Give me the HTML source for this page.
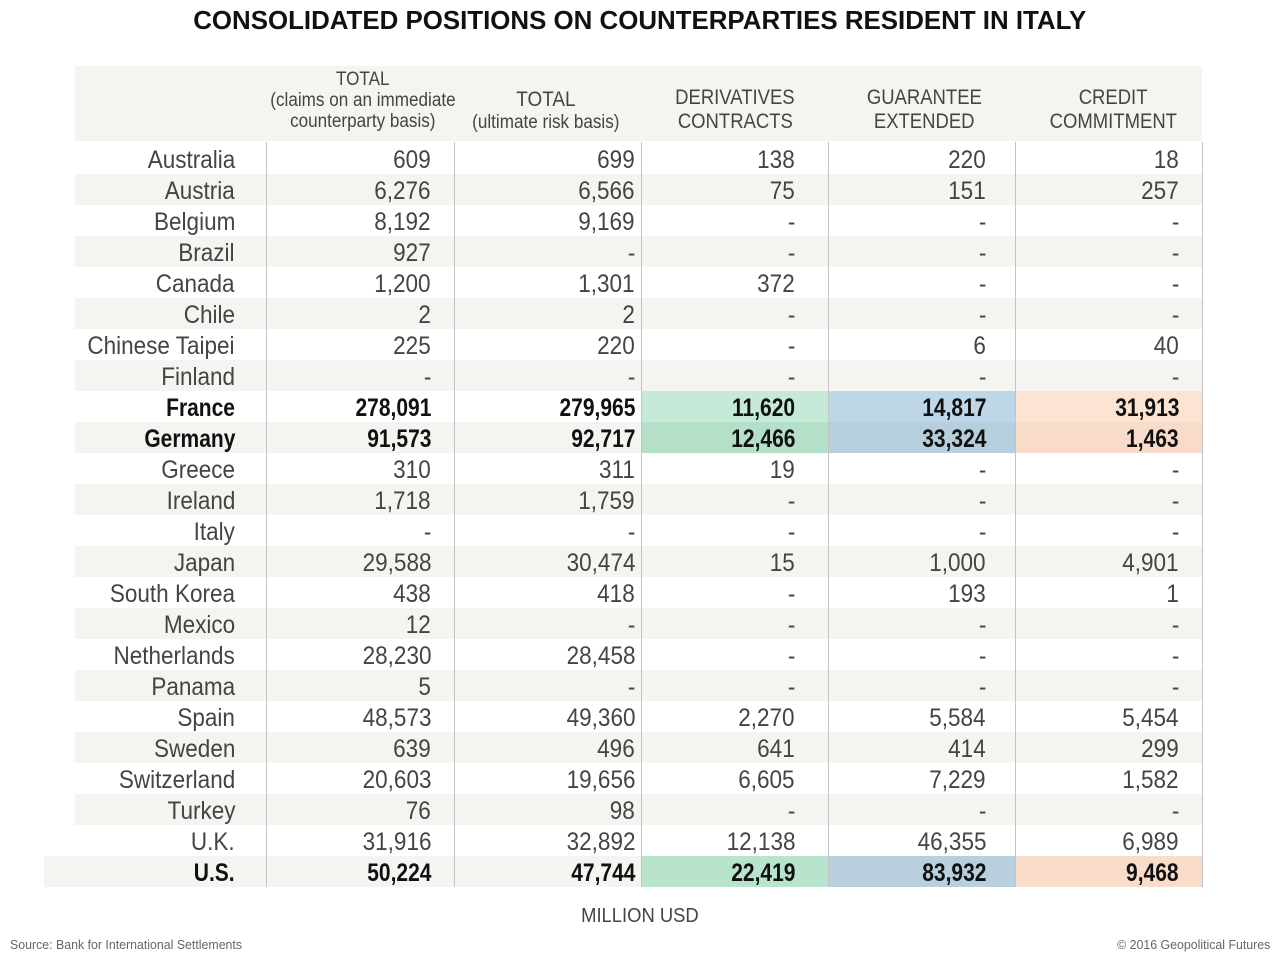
<!DOCTYPE html>
<html><head><meta charset="utf-8">
<style>
body{margin:0;width:1280px;height:960px;background:#fff;position:relative;overflow:hidden;font-family:"Liberation Sans",sans-serif;}
.t{position:absolute;white-space:nowrap;}
.title{left:0;width:1280px;top:5px;text-align:center;font-weight:bold;font-size:26px;color:#111;}
.title span{display:inline-block;transform:scaleX(0.995);}
.hdr{position:absolute;left:75px;top:66px;width:1127px;height:75px;background:#f5f4f0;}
.hc{position:absolute;top:63px;height:75px;width:190px;display:flex;flex-direction:column;justify-content:center;align-items:center;color:#444;font-size:19px;line-height:21px;text-align:center;}
.hc span{display:inline-block;transform:scaleX(0.9);white-space:nowrap;}
.hc.two{top:72px;font-size:21px;line-height:24px}
.hc.two span{transform:scaleX(0.88)}
.row{position:absolute;height:31px;left:75px;width:1127px;}
.row.b{background:#f5f4f0;}
.cell{position:absolute;top:2px;height:31px;line-height:31px;font-size:25px;color:#444;text-align:right;}
.cell span{display:inline-block;transform:scaleX(0.9);transform-origin:right center;white-space:nowrap;}
.bold .cell{color:#111;font-weight:bold;}
.bold .cell span{transform:scaleX(0.84);}
.c0{left:-40px;width:200px}
.c1{left:191px;width:165px}
.c2{left:379px;width:181px}
.c3{left:566px;width:154px}
.c4{left:753px;width:158px}
.c5{left:940px;width:164px}
.bg{position:absolute;top:0;height:31px;}
.vl{position:absolute;top:142px;height:745px;width:1px;background:#c4c4c4;}
</style></head><body>
<div class="t title"><span>CONSOLIDATED POSITIONS ON COUNTERPARTIES RESIDENT IN ITALY</span></div>
<div class="hdr"></div>
<div class="hc" style="left:268px"><span>TOTAL</span><span>(claims on an immediate</span><span>counterparty basis)</span></div>
<div class="hc" style="left:451px;top:73px"><span style="font-size:21px;line-height:24px">TOTAL</span><span>(ultimate risk basis)</span></div>
<div class="hc two" style="left:640px"><span>DERIVATIVES</span><span>CONTRACTS</span></div>
<div class="hc two" style="left:829px"><span>GUARANTEE</span><span>EXTENDED</span></div>
<div class="hc two" style="left:1018px"><span>CREDIT</span><span>COMMITMENT</span></div>

<div class="row" style="top:143px"><div class="cell c0"><span>Australia</span></div><div class="cell c1"><span>609</span></div><div class="cell c2"><span>699</span></div><div class="cell c3"><span>138</span></div><div class="cell c4"><span>220</span></div><div class="cell c5"><span>18</span></div></div>
<div class="row b" style="top:174px"><div class="cell c0"><span>Austria</span></div><div class="cell c1"><span>6,276</span></div><div class="cell c2"><span>6,566</span></div><div class="cell c3"><span>75</span></div><div class="cell c4"><span>151</span></div><div class="cell c5"><span>257</span></div></div>
<div class="row" style="top:205px"><div class="cell c0"><span>Belgium</span></div><div class="cell c1"><span>8,192</span></div><div class="cell c2"><span>9,169</span></div><div class="cell c3"><span>-</span></div><div class="cell c4"><span>-</span></div><div class="cell c5"><span>-</span></div></div>
<div class="row b" style="top:236px"><div class="cell c0"><span>Brazil</span></div><div class="cell c1"><span>927</span></div><div class="cell c2"><span>-</span></div><div class="cell c3"><span>-</span></div><div class="cell c4"><span>-</span></div><div class="cell c5"><span>-</span></div></div>
<div class="row" style="top:267px"><div class="cell c0"><span>Canada</span></div><div class="cell c1"><span>1,200</span></div><div class="cell c2"><span>1,301</span></div><div class="cell c3"><span>372</span></div><div class="cell c4"><span>-</span></div><div class="cell c5"><span>-</span></div></div>
<div class="row b" style="top:298px"><div class="cell c0"><span>Chile</span></div><div class="cell c1"><span>2</span></div><div class="cell c2"><span>2</span></div><div class="cell c3"><span>-</span></div><div class="cell c4"><span>-</span></div><div class="cell c5"><span>-</span></div></div>
<div class="row" style="top:329px"><div class="cell c0"><span>Chinese Taipei</span></div><div class="cell c1"><span>225</span></div><div class="cell c2"><span>220</span></div><div class="cell c3"><span>-</span></div><div class="cell c4"><span>6</span></div><div class="cell c5"><span>40</span></div></div>
<div class="row b" style="top:360px"><div class="cell c0"><span>Finland</span></div><div class="cell c1"><span>-</span></div><div class="cell c2"><span>-</span></div><div class="cell c3"><span>-</span></div><div class="cell c4"><span>-</span></div><div class="cell c5"><span>-</span></div></div>
<div class="row bold" style="top:391px"><div class="bg" style="left:566px;width:187px;background:#c6ead8"></div><div class="bg" style="left:753px;width:187px;background:#bdd6e8"></div><div class="bg" style="left:940px;width:187px;background:#fde3d1"></div><div class="cell c0"><span>France</span></div><div class="cell c1"><span>278,091</span></div><div class="cell c2"><span>279,965</span></div><div class="cell c3"><span>11,620</span></div><div class="cell c4"><span>14,817</span></div><div class="cell c5"><span>31,913</span></div></div>
<div class="row b bold" style="top:422px"><div class="bg" style="left:566px;width:187px;background:#b4dfc8"></div><div class="bg" style="left:753px;width:187px;background:#b6cfdc"></div><div class="bg" style="left:940px;width:187px;background:#f8dbc8"></div><div class="cell c0"><span>Germany</span></div><div class="cell c1"><span>91,573</span></div><div class="cell c2"><span>92,717</span></div><div class="cell c3"><span>12,466</span></div><div class="cell c4"><span>33,324</span></div><div class="cell c5"><span>1,463</span></div></div>
<div class="row" style="top:453px"><div class="cell c0"><span>Greece</span></div><div class="cell c1"><span>310</span></div><div class="cell c2"><span>311</span></div><div class="cell c3"><span>19</span></div><div class="cell c4"><span>-</span></div><div class="cell c5"><span>-</span></div></div>
<div class="row b" style="top:484px"><div class="cell c0"><span>Ireland</span></div><div class="cell c1"><span>1,718</span></div><div class="cell c2"><span>1,759</span></div><div class="cell c3"><span>-</span></div><div class="cell c4"><span>-</span></div><div class="cell c5"><span>-</span></div></div>
<div class="row" style="top:515px"><div class="cell c0"><span>Italy</span></div><div class="cell c1"><span>-</span></div><div class="cell c2"><span>-</span></div><div class="cell c3"><span>-</span></div><div class="cell c4"><span>-</span></div><div class="cell c5"><span>-</span></div></div>
<div class="row b" style="top:546px"><div class="cell c0"><span>Japan</span></div><div class="cell c1"><span>29,588</span></div><div class="cell c2"><span>30,474</span></div><div class="cell c3"><span>15</span></div><div class="cell c4"><span>1,000</span></div><div class="cell c5"><span>4,901</span></div></div>
<div class="row" style="top:577px"><div class="cell c0"><span>South Korea</span></div><div class="cell c1"><span>438</span></div><div class="cell c2"><span>418</span></div><div class="cell c3"><span>-</span></div><div class="cell c4"><span>193</span></div><div class="cell c5"><span>1</span></div></div>
<div class="row b" style="top:608px"><div class="cell c0"><span>Mexico</span></div><div class="cell c1"><span>12</span></div><div class="cell c2"><span>-</span></div><div class="cell c3"><span>-</span></div><div class="cell c4"><span>-</span></div><div class="cell c5"><span>-</span></div></div>
<div class="row" style="top:639px"><div class="cell c0"><span>Netherlands</span></div><div class="cell c1"><span>28,230</span></div><div class="cell c2"><span>28,458</span></div><div class="cell c3"><span>-</span></div><div class="cell c4"><span>-</span></div><div class="cell c5"><span>-</span></div></div>
<div class="row b" style="top:670px"><div class="cell c0"><span>Panama</span></div><div class="cell c1"><span>5</span></div><div class="cell c2"><span>-</span></div><div class="cell c3"><span>-</span></div><div class="cell c4"><span>-</span></div><div class="cell c5"><span>-</span></div></div>
<div class="row" style="top:701px"><div class="cell c0"><span>Spain</span></div><div class="cell c1"><span>48,573</span></div><div class="cell c2"><span>49,360</span></div><div class="cell c3"><span>2,270</span></div><div class="cell c4"><span>5,584</span></div><div class="cell c5"><span>5,454</span></div></div>
<div class="row b" style="top:732px"><div class="cell c0"><span>Sweden</span></div><div class="cell c1"><span>639</span></div><div class="cell c2"><span>496</span></div><div class="cell c3"><span>641</span></div><div class="cell c4"><span>414</span></div><div class="cell c5"><span>299</span></div></div>
<div class="row" style="top:763px"><div class="cell c0"><span>Switzerland</span></div><div class="cell c1"><span>20,603</span></div><div class="cell c2"><span>19,656</span></div><div class="cell c3"><span>6,605</span></div><div class="cell c4"><span>7,229</span></div><div class="cell c5"><span>1,582</span></div></div>
<div class="row b" style="top:794px"><div class="cell c0"><span>Turkey</span></div><div class="cell c1"><span>76</span></div><div class="cell c2"><span>98</span></div><div class="cell c3"><span>-</span></div><div class="cell c4"><span>-</span></div><div class="cell c5"><span>-</span></div></div>
<div class="row" style="top:825px"><div class="cell c0"><span>U.K.</span></div><div class="cell c1"><span>31,916</span></div><div class="cell c2"><span>32,892</span></div><div class="cell c3"><span>12,138</span></div><div class="cell c4"><span>46,355</span></div><div class="cell c5"><span>6,989</span></div></div>
<div class="row b bold" style="top:856px"><div class="bg" style="left:-31px;width:31px;background:#f5f4f0"></div><div class="bg" style="left:566px;width:187px;background:#b8e4cd"></div><div class="bg" style="left:753px;width:187px;background:#b8d0de"></div><div class="bg" style="left:940px;width:187px;background:#f9dcc9"></div><div class="cell c0"><span>U.S.</span></div><div class="cell c1"><span>50,224</span></div><div class="cell c2"><span>47,744</span></div><div class="cell c3"><span>22,419</span></div><div class="cell c4"><span>83,932</span></div><div class="cell c5"><span>9,468</span></div></div>

<div class="vl" style="left:266px"></div>
<div class="vl" style="left:454px"></div>
<div class="vl" style="left:641px"></div>
<div class="vl" style="left:828px"></div>
<div class="vl" style="left:1015px"></div>
<div class="vl" style="left:1202px"></div>

<div class="t" style="left:0;width:1280px;text-align:center;top:905px;font-size:20px;color:#444"><span style="display:inline-block;transform:scaleX(0.92)">MILLION USD</span></div>
<div class="t" style="left:10px;top:937px;font-size:13px;color:#666"><span style="display:inline-block;transform:scaleX(0.95);transform-origin:left">Source: Bank for International Settlements</span></div>
<div class="t" style="right:10px;top:937px;font-size:13px;color:#666"><span style="display:inline-block;transform:scaleX(0.95);transform-origin:right">© 2016 Geopolitical Futures</span></div>
</body></html>
